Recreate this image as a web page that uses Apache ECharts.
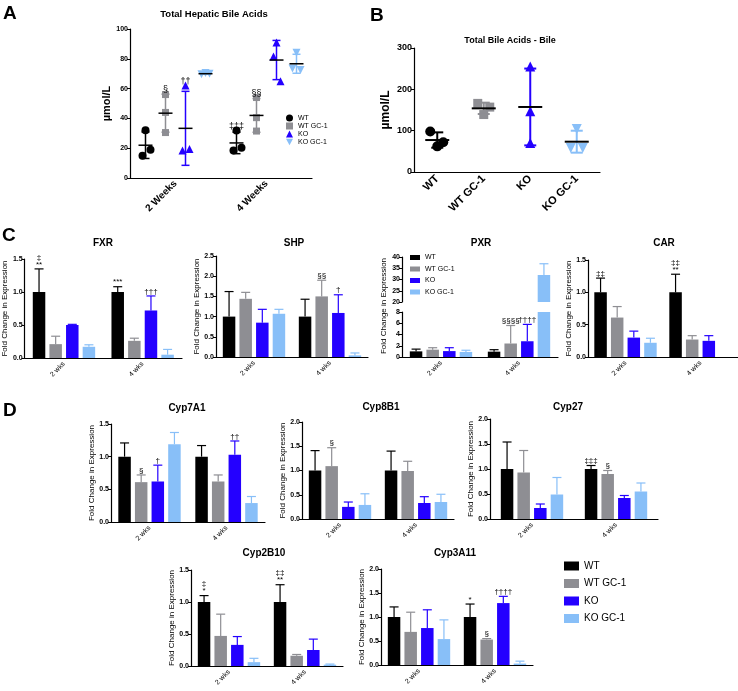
<!DOCTYPE html>
<html><head><meta charset="utf-8">
<script src="https://cdn.jsdelivr.net/npm/echarts@6/dist/echarts.min.js"></script>
<style>html,body{margin:0;padding:0;background:#fff}#c{width:738px;height:691px}</style>
</head><body><div id="c"></div>
<script>
// ---------------- DATA ----------------
const groups = ['WT', 'WT GC-1', 'KO', 'KO GC-1'];
const weeksA = ['2 Weeks', '4 Weeks'];
const bileCats = ['WT', 'WT GC-1', 'KO', 'KO GC-1'];
const weeks = ['2 wks', '4 wks'];

// Panel A: Total hepatic bile acids (µmol/L), individual animals [2 weeks, 4 weeks]
const hepWT    = [[32, 15, 19], [31.8, 18.5, 20.3]];
const hepWTGC1 = [[56, 44, 30.5], [54, 40.5, 31.5]];
const hepKO    = [[62, 18.5, 19.5], [91, 81.5, 65]];
const hepKOGC1 = [[70.4, 69.6, 70.0], [84, 73.5, 72.5]];
const hepMarks = [[0, 1, '§'], [0, 2, '††'], [1, 0, '‡‡‡'], [1, 1, '§§']];

// Panel B: Total bile acids - bile (µmol/L)
const bileWT    = [98, 72, 62];
const bileWTGC1 = [166, 157, 139];
const bileKO    = [255, 147, 70];
const bileKOGC1 = [58, 58, 104];

// Panels C/D: fold change, rows = WT, WT GC-1, KO, KO GC-1; cols = 2 wks, 4 wks
const fxrMean = [[1.0, 1.0], [0.21, 0.26], [0.50, 0.72], [0.17, 0.05]];
const fxrErr  = [[0.35, 0.08], [0.12, 0.04], [0.01, 0.22], [0.03, 0.08]];
const fxrMarks = [[0, 0, '‡\n**'], [1, 0, '***'], [1, 2, '†††']];

const shpMean = [[1.0, 1.0], [1.44, 1.50], [0.85, 1.09], [1.07, 0.04]];
const shpErr  = [[0.62, 0.43], [0.16, 0.40], [0.33, 0.45], [0.11, 0.06]];
const shpMarks = [[1, 1, '§§'], [1, 2, '†']];

const pxrMean = [[1.0, 0.95], [1.3, 2.4], [1.05, 2.8], [0.9, 32]];
const pxrErr  = [[0.4, 0.35], [0.35, 3.2], [0.6, 3.0], [0.3, 5]];
const pxrMarks = [[1, 1, '§§§§'], [1, 2, '††††']];

const carMean = [[1.0, 1.0], [0.61, 0.27], [0.30, 0.25], [0.22, null]];
const carErr  = [[0.22, 0.28], [0.17, 0.06], [0.10, 0.08], [0.07, null]];
const carMarks = [[0, 0, '‡‡'], [1, 0, '‡‡\n**']];

const cyp7a1Mean = [[1.0, 1.0], [0.61, 0.62], [0.62, 1.03], [1.19, 0.29]];
const cyp7a1Err  = [[0.21, 0.17], [0.11, 0.10], [0.25, 0.21], [0.18, 0.10]];
const cyp7a1Marks = [[0, 1, '§'], [0, 2, '†'], [1, 2, '††']];

const cyp8b1Mean = [[1.0, 1.0], [1.09, 0.99], [0.25, 0.33], [0.29, 0.35]];
const cyp8b1Err  = [[0.41, 0.40], [0.38, 0.20], [0.10, 0.13], [0.23, 0.16]];
const cyp8b1Marks = [[0, 1, '§']];

const cyp27Mean = [[1.0, 1.0], [0.93, 0.90], [0.22, 0.42], [0.49, 0.55]];
const cyp27Err  = [[0.54, 0.07], [0.44, 0.07], [0.08, 0.05], [0.34, 0.17]];
const cyp27Marks = [[1, 0, '‡‡‡'], [1, 1, '§']];

const cyp2b10Mean = [[1.0, 1.0], [0.47, 0.16], [0.33, 0.25], [0.06, 0.02]];
const cyp2b10Err  = [[0.10, 0.27], [0.34, 0.02], [0.13, 0.17], [0.06, 0.01]];
const cyp2b10Marks = [[0, 0, '‡\n*'], [1, 0, '‡‡\n**']];

const cyp3a11Mean = [[1.0, 1.0], [0.69, 0.53], [0.77, 1.29], [0.54, 0.03]];
const cyp3a11Err  = [[0.21, 0.27], [0.41, 0.02], [0.38, 0.14], [0.40, 0.05]];
const cyp3a11Marks = [[1, 0, '*'], [1, 1, '§'], [1, 2, '††††']];

// ---------------- STYLE / BUILD ----------------
const FONT = '"Liberation Sans", Arial, Helvetica, sans-serif';
const COL = ['#000000', '#8e8e93', '#2400ff', '#88bff8'];
const SYM = ['circle', 'rect', 'triangle', 'path://M0,0L10,0L5,9Z'];
const SYMSIZE = [8, 7, 8, 8];
const BW = 12.5, GAP = 0.33, STEP = BW * (1 + GAP);

const grid = [], xAxis = [], yAxis = [], series = [], title = [], graphic = [];

function addGrid(box, cats, yo, xo) {
  const gi = grid.length;
  grid.push({ left: box[0], top: box[1], width: box[2], height: box[3] });
  xAxis.push({
    gridIndex: gi, type: 'category', data: cats, show: xo.show !== false,
    axisLine: { lineStyle: { color: '#000', width: 1.2 } },
    axisTick: { alignWithLabel: true, length: 3, lineStyle: { color: '#000', width: 1 } },
    axisLabel: { rotate: 45, interval: 0, fontSize: xo.fs || 7, fontWeight: xo.fw || 'normal',
      color: '#000', margin: xo.margin || 5, fontFamily: FONT },
    splitLine: { show: false }
  });
  yAxis.push({
    gridIndex: gi, type: 'value', min: yo.min || 0, max: yo.max, interval: yo.interval,
    axisLine: { show: true, lineStyle: { color: '#000', width: 1.2 } },
    axisTick: { show: true, length: 3, lineStyle: { color: '#000', width: 1 } },
    splitLine: { show: false },
    axisLabel: { fontSize: yo.fs || 7, fontWeight: 'bold', color: '#000', margin: 2, fontFamily: FONT,
      formatter: yo.fmt || (v => v.toFixed(1)) },
    name: yo.name === undefined ? 'Fold Change in Expression' : yo.name,
    nameLocation: 'middle', nameGap: yo.nameGap || 13,
    nameTextStyle: { fontSize: yo.nfs || 8, fontWeight: yo.nfw || 'normal', color: '#000', fontFamily: FONT }
  });
  return gi;
}

function addTitle(text, cx, top, fs) {
  title.push({ text, left: cx, top, textAlign: 'center', padding: 0,
    textStyle: { fontSize: fs, fontWeight: 'bold', color: '#000', fontFamily: FONT } });
}

function addBars(gi, mean, err, rng) {
  for (let s = 0; s < 4; s++) {
    series.push({ type: 'bar', name: groups[s], xAxisIndex: gi, yAxisIndex: gi, data: mean[s],
      barWidth: BW, barGap: (GAP * 100) + '%', itemStyle: { color: COL[s] }, silent: true, animation: false });
  }
  const rows = [];
  for (let s = 0; s < 4; s++) for (let c = 0; c < 2; c++)
    if (mean[s][c] != null) rows.push([c, s, mean[s][c], err[s][c]]);
  const lo = rng ? rng[0] : -Infinity, hi = rng ? rng[1] : Infinity;
  series.push({ type: 'custom', xAxisIndex: gi, yAxisIndex: gi, data: rows, z: 5, silent: true, animation: false,
    renderItem: (p, api) => {
      const c = api.value(0), s = api.value(1), v = api.value(2), e = api.value(3);
      if (v >= hi || v + e <= lo) return null;
      const p0 = api.coord([c, Math.max(v, lo)]), p1 = api.coord([c, v + e]);
      const x = p0[0] + (s - 1.5) * STEP;
      const st = { stroke: COL[s], lineWidth: 1.2 };
      return { type: 'group', children: [
        { type: 'line', shape: { x1: x, y1: p0[1], x2: x, y2: p1[1] }, style: st },
        { type: 'line', shape: { x1: x - 4.5, y1: p1[1], x2: x + 4.5, y2: p1[1] }, style: st }
      ] };
    } });
}

function addMarks(gi, marks, topFn, step, fs) {
  const rows = marks.map(m => [m[0], m[1], topFn(m[1], m[0])]);
  series.push({ type: 'custom', xAxisIndex: gi, yAxisIndex: gi, data: rows, z: 6, silent: true, animation: false,
    renderItem: (p, api) => {
      const c = api.value(0), s = api.value(1), t = api.value(2);
      const pt = api.coord([c, t]);
      return { type: 'text', x: pt[0] + (s - 1.5) * step, y: pt[1] - 1,
        style: { text: marks[p.dataIndex][2], align: 'center', verticalAlign: 'bottom',
          fontSize: fs || 8, lineHeight: 7, fontFamily: FONT, fill: '#000' } };
    } });
}

function barChart(box, mean, err, marks, yo, ttl) {
  const gi = addGrid(box, weeks, yo, {});
  addBars(gi, mean, err);
  if (marks) addMarks(gi, marks, (s, c) => mean[s][c] + err[s][c], STEP);
  addTitle(ttl[0], ttl[1], ttl[2], 10);
  return gi;
}

function meanSd(a) {
  const m = a.reduce((x, y) => x + y, 0) / a.length;
  const sd = Math.sqrt(a.reduce((x, y) => x + (y - m) * (y - m), 0) / (a.length - 1));
  return [m, sd];
}

function addMeanSd(gi, rows, step) {
  series.push({ type: 'custom', xAxisIndex: gi, yAxisIndex: gi, data: rows, z: 4, silent: true, animation: false,
    renderItem: (p, api) => {
      const c = api.value(0), s = api.value(1), m = api.value(2), sd = api.value(3);
      const pm = api.coord([c, m]), pt = api.coord([c, m + sd]), pb = api.coord([c, m - sd]);
      const x = pm[0] + (s - 1.5) * step;
      const st = { stroke: COL[s], lineWidth: 1.5 };
      return { type: 'group', children: [
        { type: 'line', shape: { x1: x, y1: pt[1], x2: x, y2: pb[1] }, style: st },
        { type: 'line', shape: { x1: x - 4, y1: pt[1], x2: x + 4, y2: pt[1] }, style: st },
        { type: 'line', shape: { x1: x - 4, y1: pb[1], x2: x + 4, y2: pb[1] }, style: st },
        { type: 'line', shape: { x1: x - 7, y1: pm[1], x2: x + 7, y2: pm[1] }, style: { stroke: '#000', lineWidth: 1.5 } }
      ] };
    } });
}

// ---- Panel A ----
const hep = [hepWT, hepWTGC1, hepKO, hepKOGC1];
const hepJit = [[0, -3, 5], [0, 0, 0], [0, -3, 4], [0, -4, 4]];
const STEPA = 20;
{
  const gi = addGrid([130, 29, 182, 149], weeksA,
    { max: 100, interval: 20, fmt: v => String(v), name: 'µmol/L', nameGap: 15, nfs: 11, nfw: 'bold' },
    { fs: 10, fw: 'bold', margin: 4 });
  const rows = [];
  for (let s = 0; s < 4; s++) {
    const data = [];
    for (let c = 0; c < 2; c++) {
      hep[s][c].forEach((v, k) => data.push({ value: [c, v], symbolOffset: [(s - 1.5) * STEPA + hepJit[s][k], 0] }));
      const ms = meanSd(hep[s][c]);
      rows.push([c, s, ms[0], ms[1]]);
    }
    series.push({ type: 'scatter', name: groups[s], xAxisIndex: gi, yAxisIndex: gi, data,
      symbol: SYM[s], symbolSize: SYMSIZE[s], itemStyle: { color: COL[s], opacity: 1 }, z: 3, silent: true, animation: false });
  }
  addMeanSd(gi, rows, STEPA);
  addMarks(gi, hepMarks, (s, c) => { const ms = meanSd(hep[s][c]); return Math.max(ms[0] + ms[1], ...hep[s][c]); }, STEPA, 9);
  addTitle('Total Hepatic Bile Acids', 214, 9, 9.5);
}

// ---- Panel B ----
const bile = [bileWT, bileWTGC1, bileKO, bileKOGC1];
const bileJit = [[-7, 6, 0], [-6, 6, 0], [0, 0, 0], [-6, 6, 0]];
{
  const gi = addGrid([414, 48, 186, 124], bileCats,
    { max: 300, interval: 100, fmt: v => String(v), name: 'µmol/L', nameGap: 22, nfs: 12, nfw: 'bold', fs: 9 },
    { fs: 11, fw: 'bold', margin: 5 });
  const rows = [];
  for (let s = 0; s < 4; s++) {
    const data = bile[s].map((v, k) => ({ value: [s, v], symbolOffset: [bileJit[s][k], 0] }));
    const ms = meanSd(bile[s]);
    rows.push([s, s, ms[0], ms[1]]);
    series.push({ type: 'scatter', name: groups[s], xAxisIndex: gi, yAxisIndex: gi, data,
      symbol: SYM[s], symbolSize: SYMSIZE[s] + 2, itemStyle: { color: COL[s], opacity: 1 }, z: 3, silent: true, animation: false });
  }
  series.push({ type: 'custom', xAxisIndex: gi, yAxisIndex: gi, data: rows, z: 4, silent: true, animation: false,
    renderItem: (p, api) => {
      const c = api.value(0), s = api.value(1), m = api.value(2), sd = api.value(3);
      const pm = api.coord([c, m]), pt = api.coord([c, m + sd]), pb = api.coord([c, m - sd]);
      const x = pm[0];
      const st = { stroke: COL[s], lineWidth: 2 };
      return { type: 'group', children: [
        { type: 'line', shape: { x1: x, y1: pt[1], x2: x, y2: pb[1] }, style: st },
        { type: 'line', shape: { x1: x - 6, y1: pt[1], x2: x + 6, y2: pt[1] }, style: st },
        { type: 'line', shape: { x1: x - 6, y1: pb[1], x2: x + 6, y2: pb[1] }, style: st },
        { type: 'line', shape: { x1: x - 12, y1: pm[1], x2: x + 12, y2: pm[1] }, style: { stroke: '#000', lineWidth: 2 } }
      ] };
    } });
  addTitle('Total Bile Acids - Bile', 510, 36, 9);
}

// ---- Panel C ----
barChart([20, 259, 162, 99], fxrMean, fxrErr, fxrMarks, { max: 1.5, interval: 0.5 }, ['FXR', 103, 238]);
barChart([216, 256, 152, 101], shpMean, shpErr, shpMarks, { max: 2.5, interval: 0.5 }, ['SHP', 294, 238]);
{
  const gu = addGrid([402, 257, 156, 45], weeks, { min: 20, max: 40, interval: 5, fmt: v => String(v), name: '' }, { show: false });
  addBars(gu, pxrMean, pxrErr, [20, 40]);
  const gl = addGrid([402, 312, 156, 45], weeks, { min: 0, max: 8, interval: 2, fmt: v => String(v), name: '' }, {});
  addBars(gl, pxrMean, pxrErr, [0, 8]);
  addMarks(gl, pxrMarks, (s, c) => pxrMean[s][c] + pxrErr[s][c], STEP, 8);
  addTitle('PXR', 481, 238, 10);
  graphic.push({ type: 'text', x: 384, y: 306, rotation: Math.PI / 2,
    style: { text: 'Fold Change in Expression', fontSize: 8, fontFamily: FONT, fill: '#000', align: 'center', verticalAlign: 'middle' } });
}
barChart([588, 260, 150, 97], carMean, carErr, carMarks, { max: 1.5, interval: 0.5 }, ['CAR', 664, 238]);

// ---- Panel D ----
barChart([111, 424, 154, 98], cyp7a1Mean, cyp7a1Err, cyp7a1Marks, { max: 1.5, interval: 0.5 }, ['Cyp7A1', 187, 403]);
barChart([302, 422, 152, 97], cyp8b1Mean, cyp8b1Err, cyp8b1Marks, { max: 2.0, interval: 0.5 }, ['Cyp8B1', 381, 402]);
barChart([490, 419, 168, 100], cyp27Mean, cyp27Err, cyp27Marks, { max: 2.0, interval: 0.5 }, ['Cyp27', 568, 402]);
barChart([191, 570, 152, 96], cyp2b10Mean, cyp2b10Err, cyp2b10Marks, { max: 1.5, interval: 0.5 }, ['Cyp2B10', 264, 548]);
barChart([381, 569, 152, 96], cyp3a11Mean, cyp3a11Err, cyp3a11Marks, { max: 2.0, interval: 0.5 }, ['Cyp3A11', 455, 548]);

// panel letters
[['A', 3, 4], ['B', 370, 6], ['C', 2, 226], ['D', 3, 401]].forEach(l => graphic.push({ type: 'text', x: l[1], y: l[2],
  style: { text: l[0], fontSize: 19, fontWeight: 'bold', fontFamily: FONT, fill: '#000' } }));

const legendText = fs => ({ fontSize: fs, color: '#000', fontFamily: FONT });
const legend = [
  { left: 286, top: 114, orient: 'vertical', itemWidth: 7, itemHeight: 7, itemGap: 0, padding: 0, selectedMode: false,
    textStyle: Object.assign(legendText(7), { lineHeight: 8 }),
    data: groups.map((n, i) => ({ name: n, icon: SYM[i] })) },
  { left: 410, top: 254, orient: 'vertical', itemWidth: 10, itemHeight: 5, itemGap: 4.5, padding: 0, selectedMode: false,
    textStyle: legendText(7), data: groups.map(n => ({ name: n, icon: 'rect' })) },
  { left: 564, top: 561, orient: 'vertical', itemWidth: 15, itemHeight: 9, itemGap: 7.5, padding: 0, selectedMode: false,
    textStyle: legendText(10), data: groups.map(n => ({ name: n, icon: 'rect' })) }
];

const chart = echarts.init(document.getElementById('c'), null, { renderer: 'canvas' });
chart.setOption({ backgroundColor: '#fff', animation: false, title, grid, xAxis, yAxis, series, legend, graphic });
</script>
</body></html>
